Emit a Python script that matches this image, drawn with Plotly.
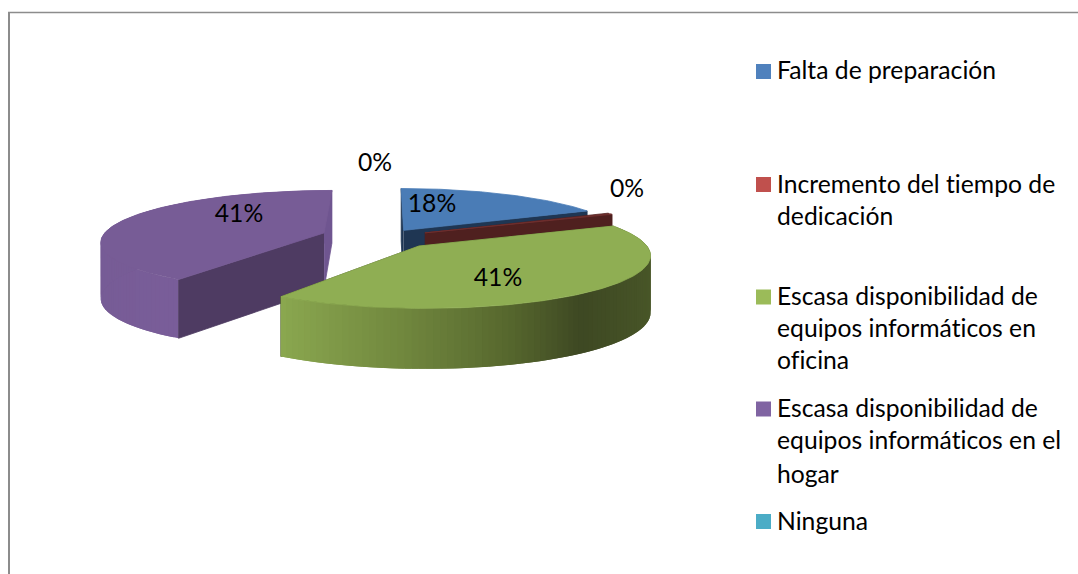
import numpy as np
import plotly.graph_objects as go

# ---- data ----
categories = ["Falta de preparación", "Incremento del tiempo de dedicación",
              "Escasa disponibilidad de equipos informáticos en oficina",
              "Escasa disponibilidad de equipos informáticos en el hogar", "Ninguna"]
values = [18, 0.5, 41, 41, 0]
legend_lines = [["Falta de preparación"],
                ["Incremento del tiempo de", "dedicación"],
                ["Escasa disponibilidad de", "equipos informáticos en", "oficina"],
                ["Escasa disponibilidad de", "equipos informáticos en el", "hogar"],
                ["Ninguna"]]

# ---- style ----
swatch_colors = ["#4F81BD", "#C0504D", "#9BBB59", "#8064A2", "#4BACC6"]
top_colors = ["#4A7CB6", "#70302E", "#8FAE53", "#775C96", "#4BACC6"]
cut_colors = ["#1F3653", "#4F201F", "#3F4A23", "#4E3B62", "#2A6070"]
explode = [0.16, 0.20, 0.23, 0.29, 0.0]
label_xy = [(432, 206), (627, 191), (498, 280), (239, 216), (375, 165)]
legend_y = [[73], [187, 219], [299, 331, 363], [411, 443, 477], [524]]
swatch_y = [71.5, 184.5, 297, 409, 521.5]
FONT = "Lato"
FS = 24.7
CX, CY, RX, RY, K, DEPTH = 385, 237, 222, 50, 0.15, 56


def proj(px, py, z=0.0):
    s = 1.0 / (1.0 + K * np.asarray(py))
    return CX + RX * np.asarray(px) * s, CY - RY * np.asarray(py) * s + z * DEPTH * s ** 0.4


def poly(fig, xs, ys, color):
    fig.add_trace(go.Scatter(x=list(xs), y=list(ys), mode="lines", fill="toself", fillcolor=color,
                             line=dict(color=color, width=0.8), showlegend=False, hoverinfo="skip"))


def lerp_color(u, stops_u, stops_hex):
    rgb = [[int(h[i:i + 2], 16) for i in (1, 3, 5)] for h in stops_hex]
    c = [np.interp(u, stops_u, [r[j] for r in rgb]) for j in range(3)]
    return "rgb(%d,%d,%d)" % tuple(c)


fig = go.Figure()
v = np.array(values, float)
edges = np.concatenate([[0], np.cumsum(v) / v.sum() * 2 * np.pi])

rim_stops = {
    2: ([-0.55, -0.1, 0.3, 0.6, 1.0], ["#8BA850", "#72893F", "#58692F", "#3E4923", "#4A5829"]),
    3: ([-1.0, -0.5], ["#775C96", "#7A5E9A"]),
}


def draw_cuts(i, a0, a1, ox, oy):
    for a in (a0, a1):
        ex, ey = ox + np.sin(a), oy + np.cos(a)
        x1, y1 = proj([ox, ex], [oy, ey], 0)
        x2, y2 = proj([ex, ox], [ey, oy], 1)
        col = cut_colors[i]
        if i == 3 and a == a1:
            col = "#6F5590"
        poly(fig, np.r_[x1, x2], np.r_[y1, y2], col)


def draw_rim(i, a0, a1, ox, oy):
    # overlapping narrow strips so the shading runs along the rim without seams
    n = max(int((a1 - a0) / np.radians(1.5)), 1)
    t = np.linspace(a0, a1, n + 1)
    step = t[1] - t[0]
    for j in range(n):
        tt = np.linspace(t[j], min(t[j] + 2 * step, a1), 4)
        px, py = ox + np.sin(tt), oy + np.cos(tt)
        x1, y1 = proj(px, py, 0)
        x2, y2 = proj(px[::-1], py[::-1], 1)
        c = lerp_color(np.sin(t[j] + step / 2), *rim_stops[i])
        fig.add_trace(go.Scatter(x=list(np.r_[x1, x2]), y=list(np.r_[y1, y2]), mode="lines", fill="toself",
                                 fillcolor=c, line=dict(width=0), showlegend=False, hoverinfo="skip"))


def draw_slice(i):
    a0, a1 = edges[i], edges[i + 1]
    b = (a0 + a1) / 2
    ox, oy = explode[i] * np.sin(b), explode[i] * np.cos(b)
    if i == 3:  # its cut faces look towards the viewer, so they go over the rim
        draw_rim(i, a0, a1, ox, oy)
        draw_cuts(i, a0, a1, ox, oy)
    else:
        draw_cuts(i, a0, a1, ox, oy)
        if i in rim_stops:
            draw_rim(i, a0, a1, ox, oy)
    t = np.linspace(a0, a1, 120)
    px = np.r_[ox, ox + np.sin(t), ox]
    py = np.r_[oy, oy + np.cos(t), oy]
    x, y = proj(px, py, 0)
    poly(fig, x, y, top_colors[i])


for i in (3, 0, 1, 2):
    draw_slice(i)

# percentage labels, from the values
pct = ["%d%%" % round(val / v.sum() * 100) for val in v]
fig.add_trace(go.Scatter(x=[p[0] for p in label_xy], y=[p[1] for p in label_xy], mode="text", text=pct,
                         textposition="middle center", textfont=dict(family=FONT, size=FS, color="#000000"),
                         showlegend=False, hoverinfo="skip"))

# legend
for i, (lines, ys) in enumerate(zip(legend_lines, legend_y)):
    fig.add_trace(go.Scatter(x=[763.5], y=[swatch_y[i]], mode="markers", name=categories[i],
                             marker=dict(symbol="square", size=15, color=swatch_colors[i]),
                             showlegend=False, hoverinfo="skip"))
    fig.add_trace(go.Scatter(x=[777] * len(lines), y=ys, mode="text", text=lines, textposition="middle right",
                             textfont=dict(family=FONT, size=FS, color="#000000"),
                             showlegend=False, hoverinfo="skip"))

fig.update_layout(
    width=1078, height=574, margin=dict(l=0, r=0, t=0, b=0),
    paper_bgcolor="white", plot_bgcolor="white", showlegend=False,
    xaxis=dict(range=[0, 1078], visible=False, fixedrange=True),
    yaxis=dict(range=[574, 0], visible=False, fixedrange=True),
    shapes=[
        dict(type="line", xref="x", yref="y", x0=9, x1=9, y0=12, y1=574, line=dict(color="#8C8C8C", width=2)),
        dict(type="line", xref="x", yref="y", x0=8, x1=1078, y0=12.5, y1=12.5, line=dict(color="#8C8C8C", width=1.5)),
    ],
)
fig.write_html("out.html", config={"displayModeBar": False},
               post_script="document.body.style.margin='0';document.body.style.overflow='hidden';"
                           "var s=document.createElement('style');"
                           "s.textContent='svg text{font-variant-ligatures:none !important;"
                           "font-feature-settings:\"liga\" 0,\"clig\" 0 !important;letter-spacing:0.01px !important}';"
                           "document.head.appendChild(s);")
